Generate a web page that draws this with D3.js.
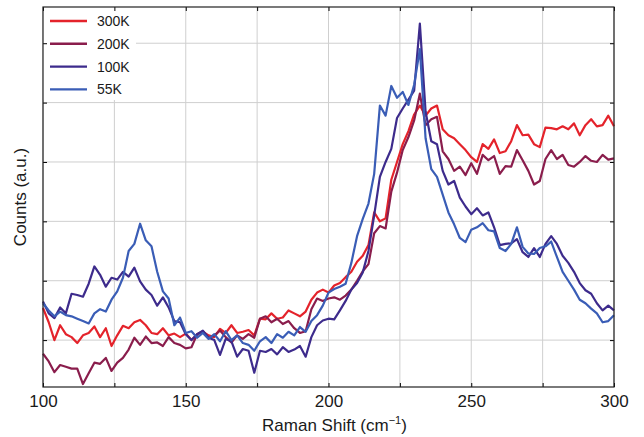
<!DOCTYPE html>
<html>
<head>
<meta charset="utf-8">
<script src="https://cdn.jsdelivr.net/npm/d3@7"></script>
<style>
  body { margin: 0; background: #fff; }
  svg { display: block; font-family: "Liberation Sans", Arial, Helvetica, sans-serif; }
</style>
</head>
<body>
<div id="container"></div>
<script>
// Raman shift samples, every 2 cm-1
const shifts = d3.range(100, 301, 2);

// counts (a.u.)
const counts300K = [154,130,100,125,110,105,95,108,112,123,105,120,90,108,124,120,130,134,125,112,110,120,108,111,105,
  111,100,110,114,108,105,119,112,125,112,114,117,108,136,135,145,136,138,150,145,140,148,168,180,185,
  180,192,196,206,215,232,242,260,315,300,305,370,400,430,452,480,495,478,490,495,455,445,440,430,420,
  408,400,430,422,438,415,418,435,462,445,446,430,425,458,457,455,460,455,465,445,462,472,460,462,478,460];

const counts200K = [77,64,46,58,55,52,52,26,44,62,60,70,48,62,70,84,104,92,106,95,96,90,105,95,92,
  86,88,110,115,103,108,116,105,96,108,102,110,104,136,140,130,136,127,132,120,112,115,152,170,166,
  170,172,168,175,185,200,216,228,280,292,288,350,382,420,442,470,515,462,472,476,418,405,385,392,378,
  398,380,412,403,410,380,393,392,420,403,385,362,368,405,420,405,412,395,392,400,410,402,400,412,404,406];

const counts100K = [165,145,137,155,145,178,176,173,195,224,210,190,205,202,215,207,222,199,185,176,158,172,155,132,130,
  110,100,110,116,104,100,75,102,98,72,85,82,45,82,80,85,76,88,80,84,90,72,105,125,133,
  136,135,150,166,185,196,214,250,310,375,400,422,474,490,505,520,633,485,435,430,385,362,368,340,325,
  312,322,310,315,290,260,262,263,270,248,240,255,240,262,275,262,242,230,215,196,184,178,162,150,158,150];

const counts55K = [162,150,140,148,142,140,136,132,128,145,152,148,168,182,205,250,262,296,268,258,215,182,170,125,138,
  112,115,104,112,102,110,98,115,100,108,95,92,82,98,105,95,110,104,114,108,122,114,132,142,158,
  180,186,190,195,230,275,304,330,380,495,478,528,508,518,496,530,590,440,388,375,345,315,295,272,265,
  286,290,297,285,283,255,250,262,290,257,246,245,255,258,266,240,215,200,185,168,162,153,145,130,132,142];

const seriesNames = ["300K", "200K", "100K", "55K"];
const seriesColors = ["#e4232b", "#8a1d4c", "#3d2b8c", "#3a5db6"];
const seriesValues = [counts300K, counts200K, counts100K, counts55K];

const xTicks = [100, 150, 200, 250, 300];
const xGrid = d3.range(100, 301, 25);
const yGrid = [100, 200, 300, 400, 500, 600];

const width = 644, height = 437;
const margin = {top: 7, right: 30, bottom: 50, left: 43};

const svg = d3.select("#container")
  .append("svg")
  .attr("width", width)
  .attr("height", height)
  .attr("viewBox", [0, 0, width, height]);

const x = d3.scaleLinear()
  .domain([100, 300])
  .range([margin.left, width - margin.right]);

const y = d3.scaleLinear()
  .domain([21, 661])
  .range([height - margin.bottom, margin.top]);

// grid
svg.append("g")
  .selectAll("line.vg")
  .data(xGrid)
  .join("line")
  .attr("x1", d => x(d)).attr("x2", d => x(d))
  .attr("y1", y.range()[0]).attr("y2", y.range()[1])
  .attr("stroke", "#cfcfcf").attr("stroke-width", 1);

svg.append("g")
  .selectAll("line.hg")
  .data(yGrid)
  .join("line")
  .attr("x1", x.range()[0]).attr("x2", x.range()[1])
  .attr("y1", d => y(d)).attr("y2", d => y(d))
  .attr("stroke", "#cfcfcf").attr("stroke-width", 1);

// legend background covers grid
svg.append("rect")
  .attr("x", x(100)).attr("y", margin.top)
  .attr("width", 93).attr("height", 93)
  .attr("fill", "#fff");

// curves
const line = d3.line()
  .x((d, i) => x(shifts[i]))
  .y(d => y(d));

svg.append("g")
  .selectAll("path")
  .data(seriesValues)
  .join("path")
  .attr("d", line)
  .attr("fill", "none")
  .attr("stroke", (d, i) => seriesColors[i])
  .attr("stroke-width", 2.2)
  .attr("stroke-linejoin", "round");

// axes with inward ticks on all sides
const fmt = d3.format("d");
svg.append("g")
  .attr("transform", `translate(0,${y.range()[0]})`)
  .call(d3.axisBottom(x).tickValues(xGrid).tickSizeInner(-4).tickSizeOuter(0)
    .tickFormat(d => xTicks.includes(d) ? fmt(d) : ""))
  .call(g => g.select(".domain").remove())
  .call(g => g.selectAll("text").attr("dy", "1.0em").attr("font-size", 17).attr("fill", "#1a1a1a")
    .attr("font-family", "Liberation Sans, Arial, sans-serif"));

svg.append("g")
  .attr("transform", `translate(0,${y.range()[1]})`)
  .call(d3.axisTop(x).tickValues(xGrid).tickSizeInner(-4).tickSizeOuter(0).tickFormat(""))
  .call(g => g.select(".domain").remove());

svg.append("g")
  .attr("transform", `translate(${x.range()[0]},0)`)
  .call(d3.axisLeft(y).tickValues(yGrid).tickSizeInner(-4).tickSizeOuter(0).tickFormat(""))
  .call(g => g.select(".domain").remove());

svg.append("g")
  .attr("transform", `translate(${x.range()[1]},0)`)
  .call(d3.axisRight(y).tickValues(yGrid).tickSizeInner(-4).tickSizeOuter(0).tickFormat(""))
  .call(g => g.select(".domain").remove());

// frame
svg.append("rect")
  .attr("x", x.range()[0]).attr("y", y.range()[1])
  .attr("width", x.range()[1] - x.range()[0])
  .attr("height", y.range()[0] - y.range()[1])
  .attr("fill", "none").attr("stroke", "#222").attr("stroke-width", 1.2);

// legend
const legend = svg.append("g")
  .selectAll("g")
  .data(seriesNames)
  .join("g")
  .attr("transform", (d, i) => `translate(0,${21 + i * 22.8})`);

legend.append("line")
  .attr("x1", 50).attr("x2", 87)
  .attr("stroke", (d, i) => seriesColors[i])
  .attr("stroke-width", 2.4);

legend.append("text")
  .attr("x", 97).attr("dy", "0.36em")
  .attr("font-size", 14).attr("fill", "#1a1a1a")
  .text(d => d);

// axis titles
const xt = svg.append("text")
  .attr("x", (x.range()[0] + x.range()[1]) / 2 + 6)
  .attr("y", 431)
  .attr("text-anchor", "middle")
  .attr("font-size", 17).attr("fill", "#1a1a1a");
xt.append("tspan").text("Raman Shift (cm");
xt.append("tspan").attr("font-size", 11).attr("dy", -7).text("\u22121");
xt.append("tspan").attr("dy", 7).text(")");

svg.append("text")
  .attr("transform", `translate(26,${(y.range()[0] + y.range()[1]) / 2}) rotate(-90)`)
  .attr("text-anchor", "middle")
  .attr("font-size", 17).attr("fill", "#1a1a1a")
  .text("Counts (a.u.)");
</script>
</body>
</html>
